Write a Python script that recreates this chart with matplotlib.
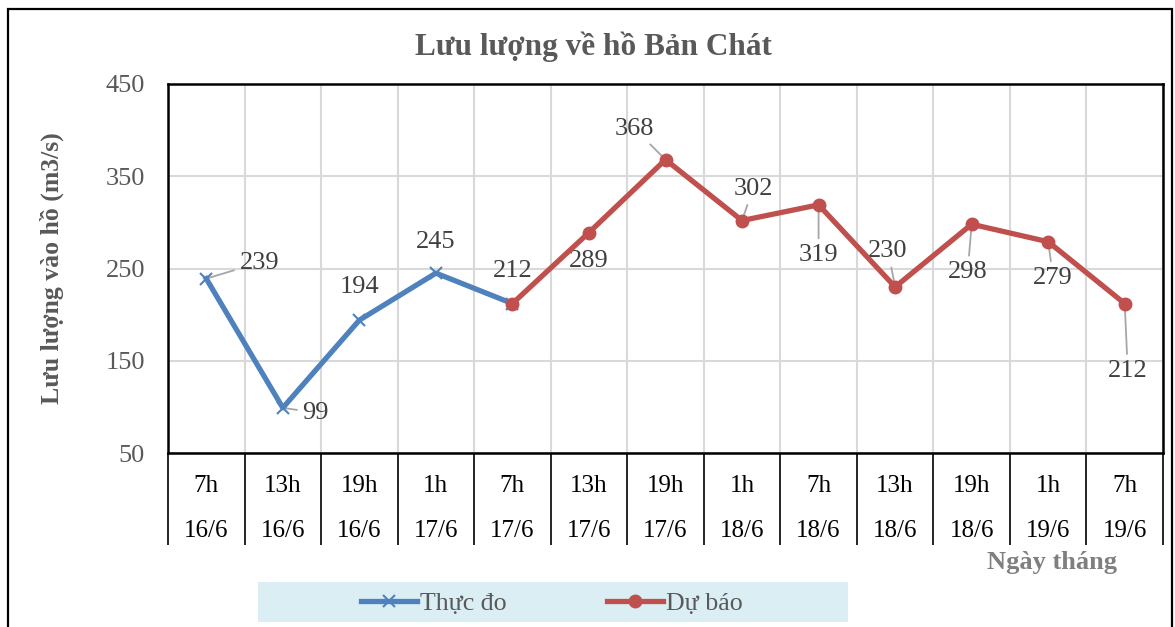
import matplotlib
matplotlib.use('Agg')
import matplotlib.pyplot as plt
from matplotlib.patches import Rectangle
from matplotlib.ticker import FixedLocator

plt.rcParams['font.family'] = ['Liberation Serif', 'DejaVu Serif']

gio = ['7h', '13h', '19h', '1h', '7h', '13h', '19h', '1h', '7h', '13h', '19h', '1h', '7h']
ngay = ['16/6', '16/6', '16/6', '17/6', '17/6', '17/6', '17/6', '18/6', '18/6', '18/6', '18/6', '19/6', '19/6']
thuc_do = [239, 99, 194, 245, 212]
du_bao = [212, 289, 368, 302, 319, 230, 298, 279, 212]
du_bao_start = 4

# vi tri nhan (pixel offset) va co duong dan hay khong
lbl_td = [(53, 16, True), (33, -5, True), (0, 33, False), (0, 31, False), (0, 33, False)]
lbl_db = [(0, 33, False), (0, -28, False), (-31, 31, True), (11, 32, True), (0, -50, True),
          (-7, 36, True), (-4, -48, True), (5, -36, True), (3, -67, True)]

W, H = 1175, 627
fig = plt.figure(figsize=(W / 100, H / 100), dpi=100)
ax = fig.add_axes([168 / W, 1 - 453 / H, (1163 - 168) / W, (453 - 84) / H])

x_td = list(range(len(thuc_do)))
x_db = list(range(du_bao_start, du_bao_start + len(du_bao)))

blue = '#4F81BD'
red = '#C0504D'
ax.plot(x_td, thuc_do, color=blue, lw=3.8, marker='x', ms=8, mew=1.5, zorder=4, label='Thực đo')
ax.plot(x_db, du_bao, color=red, lw=3.8, marker='o', ms=9, zorder=4, label='Dự báo')

def add_labels(xs, ys, offs):
    for x, y, (dx, dy, lead) in zip(xs, ys, offs):
        ap = dict(arrowstyle='-', color='#A6A6A6', lw=1.3, shrinkA=2, shrinkB=2) if lead else None
        ax.annotate(str(y), (x, y), xytext=(dx, dy), textcoords='offset pixels',
                    ha='center', va='center', fontsize=19, color='#404040',
                    arrowprops=ap, zorder=3)

# nhan cua diem chung chi ve mot lan
add_labels(x_td, thuc_do, lbl_td)
add_labels(x_db[1:], du_bao[1:], lbl_db[1:])

ax.set_xlim(-0.5, len(gio) - 0.5)
ax.set_ylim(50, 450)
ax.set_yticks([50, 150, 250, 350, 450])
ax.yaxis.set_minor_locator(FixedLocator([100, 200, 300, 400]))
ax.set_xticks(range(len(gio)))
ax.set_xticklabels([f'{g}\n{d}' for g, d in zip(gio, ngay)], linespacing=2.4)
ax.xaxis.set_minor_locator(FixedLocator([i - 0.5 for i in range(len(gio) + 1)]))

ax.tick_params(axis='x', which='major', length=0, pad=15.5, labelsize=18, labelcolor='black')
ax.tick_params(axis='x', which='minor', length=66, width=1.2, color='black', direction='out')
ax.tick_params(axis='y', which='both', length=0, pad=16.5, labelsize=19, labelcolor='#595959')

ax.grid(True, axis='x', which='minor', color='#D9D9D9', lw=1.5)
ax.grid(True, axis='y', which='major', color='#D9D9D9', lw=1.5)
ax.set_axisbelow(True)
for s in ax.spines.values():
    s.set_linewidth(1.8)
    s.set_color('black')

ax.set_ylabel('Lưu lượng vào hồ (m3/s)', fontsize=18.5, fontweight='bold', color='#595959')
ax.yaxis.set_label_coords(-0.105, 0.5)

fig.text(593 / W, 1 - 47 / H, 'Lưu lượng về hồ Bản Chát', ha='center', va='center',
         fontsize=22.5, fontweight='bold', color='#595959')
fig.text(1052 / W, 1 - 562 / H, 'Ngày tháng', ha='center', va='center',
         fontsize=19, fontweight='bold', color='#7F7F7F')

# khung ngoai
fig.patches.append(Rectangle((8 / W, -0.2), (1172 - 8) / W, 1.2 - 9 / H, transform=fig.transFigure,
                             fill=False, ec='black', lw=1.6, clip_on=False))
# nen chu thich
fig.patches.append(Rectangle((258 / W, 1 - 622 / H), (848 - 258) / W, 40 / H, transform=fig.transFigure,
                             fc='#DAEEF3', ec='none'))
leg = fig.legend(loc='center', bbox_to_anchor=(552 / W, 1 - 603 / H), ncol=2, frameon=False,
                 fontsize=18.6, handlelength=2.15, handletextpad=0.12, columnspacing=3.9)
for t in leg.get_texts():
    t.set_color('#595959')

fig.savefig('out.png', dpi=100)
